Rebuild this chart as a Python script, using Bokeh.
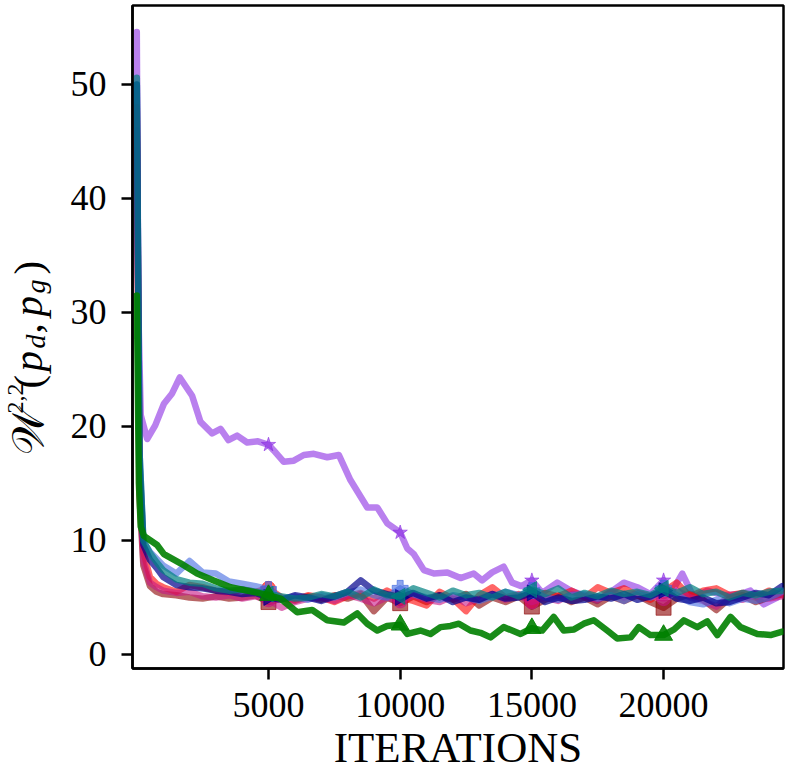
import numpy as np
from bokeh.plotting import figure
from bokeh.models import Range1d, FixedTicker
from bokeh.layouts import row
from bokeh.core.properties import value
from bokeh.embed import file_html
from bokeh.resources import INLINE

# ---------------- data ----------------
purple_x = [0, 60, 150, 394, 700, 1030, 1340, 1633, 2100, 2420, 2860, 3180, 3480, 3810, 4190, 4600,
            5000, 5200, 5580, 5960, 6340, 6720, 7230, 7670, 8110, 8750, 9130, 9510, 10000, 10270, 10520, 10900,
            11280, 11790, 12290, 12790, 13110, 13490, 13930, 14250, 14600, 15000, 15390, 15960, 16470, 16970, 17480, 18000,
            18490, 19000, 19500, 20000, 20260, 20710, 21150, 21660, 22290, 22920, 23300, 23800, 24310, 24550]
purple_y = [54.6, 30.0, 21.0, 18.9, 20.1, 22.0, 22.9, 24.3, 22.7, 20.4, 19.4, 19.8, 18.8, 19.2, 18.6, 18.7,
            18.4, 17.9, 16.9, 17.0, 17.5, 17.6, 17.3, 17.5, 15.3, 12.9, 12.9, 11.5, 10.7, 9.3, 8.8, 7.4,
            7.1, 7.2, 6.7, 7.1, 6.5, 7.2, 7.7, 6.3, 6.0, 6.5, 5.4, 6.3, 5.6, 5.2, 4.7, 5.5,
            6.3, 5.9, 5.3, 6.5, 5.3, 7.1, 5.0, 5.6, 5.2, 5.3, 5.6, 4.4, 5.0, 5.6]

green_x = [0, 80, 150, 270, 770, 1030, 1660, 2290, 2920, 3560, 4190, 4820, 5000, 5460, 6090, 6660,
           7230, 7860, 8370, 8750, 9130, 9500, 10000, 10270, 10770, 11150, 11530, 11910, 12230, 12670, 13050, 13430,
           13930, 14570, 15000, 15390, 15830, 16210, 16600, 16970, 17350, 17860, 18240, 18750, 19060, 19500, 20000, 20400,
           20770, 21280, 21660, 22040, 22540, 22920, 23560, 24060, 24510]
green_y = [31.5, 15.0, 11.2, 10.4, 9.6, 8.8, 8.0, 7.1, 6.5, 5.9, 5.6, 5.3, 5.2, 4.9, 3.7, 3.9,
           3.0, 2.8, 3.6, 2.7, 2.1, 2.5, 2.6, 1.8, 2.1, 1.8, 2.4, 2.5, 2.7, 2.1, 1.9, 1.5,
           2.4, 1.8, 2.3, 2.1, 3.3, 2.1, 2.2, 2.7, 3.0, 2.1, 1.4, 1.5, 2.4, 1.7, 1.7, 2.2,
           3.0, 2.4, 2.9, 1.7, 3.3, 2.4, 1.8, 1.7, 2.0]

grid_x = [0, 100, 250, 500, 750, 1000, 1500, 2000, 2500, 3000, 3500, 4000, 4500, 5000,
          5500, 6000, 6500, 7000, 7500, 8000, 8500, 9000, 9500, 10000, 10500, 11000, 11500, 12000,
          12500, 13000, 13500, 14000, 14500, 15000, 15500, 16000, 16500, 17000, 17500, 18000, 18500, 19000,
          19500, 20000, 20500, 21000, 21500, 22000, 22500, 23000, 23500, 24000, 24500]
brown_y = [45, 14, 7.8, 6.0, 5.5, 5.3, 5.2, 5.0, 4.9, 5.1, 4.9, 5.0, 5.2, 4.6,
           4.9, 4.7, 5.1, 4.8, 5.2, 4.9, 5.3, 3.8, 5.0, 4.5, 5.1, 4.6, 5.2, 4.8,
           5.3, 4.3, 5.0, 4.6, 5.1, 4.2, 4.8, 5.2, 4.6, 5.0, 4.4, 5.1, 4.7, 5.2,
           4.6, 4.1, 4.9, 5.3, 4.8, 3.9, 4.9, 5.2, 4.6, 5.0, 5.3]
red_y = [48, 16, 9.0, 6.8, 6.2, 5.9, 5.5, 6.1, 5.9, 5.6, 5.4, 5.7, 5.5, 5.8,
         5.0, 4.8, 5.2, 5.0, 4.6, 5.1, 5.4, 4.9, 5.6, 5.0, 4.7, 4.3, 5.5, 4.9,
         3.8, 5.2, 5.9, 5.0, 5.3, 4.7, 5.4, 5.1, 5.6, 5.0, 5.9, 5.4, 5.8, 5.2,
         4.8, 5.5, 6.3, 5.1, 5.6, 5.8, 5.2, 5.4, 5.0, 5.6, 5.2]
royal_y = [50, 18, 9.9, 9.0, 8.4, 7.8, 7.1, 8.2, 7.2, 7.1, 6.4, 6.2, 6.0, 5.7,
           4.9, 5.1, 4.8, 5.2, 5.0, 5.4, 5.7, 5.2, 5.0, 5.8, 5.3, 5.0, 4.8, 5.2,
           5.0, 4.7, 5.1, 5.5, 5.2, 5.6, 5.0, 4.8, 5.2, 5.3, 4.9, 5.2, 4.7, 5.3,
           5.0, 5.8, 5.2, 4.6, 4.4, 4.8, 4.5, 4.9, 4.7, 5.0, 5.5]
navy_y = [50, 17, 9.6, 8.3, 7.6, 6.8, 6.1, 5.9, 5.8, 5.6, 5.5, 5.3, 5.4, 5.0,
          4.8, 5.2, 5.0, 4.7, 5.1, 5.5, 6.5, 5.6, 5.3, 5.0, 5.4, 4.9, 5.2, 4.6,
          5.0, 4.8, 5.3, 4.9, 5.0, 5.4, 4.6, 5.0, 4.7, 4.8, 5.1, 4.9, 5.3, 4.8,
          5.1, 5.6, 4.9, 4.7, 5.0, 4.5, 4.6, 5.0, 5.4, 5.2, 6.0]
teal_y = [50.6, 18, 10.0, 8.9, 8.1, 7.4, 6.6, 6.3, 6.2, 5.8, 5.6, 5.7, 5.5, 5.3,
          5.1, 4.9, 5.0, 5.3, 5.1, 5.5, 5.0, 5.7, 5.2, 5.1, 5.8, 5.4, 5.0, 5.6,
          5.2, 5.4, 5.0, 5.5, 5.1, 5.7, 5.3, 5.8, 5.0, 5.4, 5.1, 5.6, 5.3, 5.5,
          5.2, 5.8, 5.4, 5.9, 5.3, 5.5, 5.0, 5.4, 5.2, 5.5, 5.6]
pink_y = [46, 15, 8.2, 6.3, 5.9, 5.6, 5.4, 5.5, 5.1, 5.0, 5.2, 4.9, 5.1, 4.8,
          4.1, 4.6, 4.9, 5.0, 4.7, 5.2, 4.9, 4.5, 5.0, 4.7, 5.2, 4.8, 4.6, 5.1,
          4.5, 4.9, 5.3, 4.8, 5.2, 4.6, 5.0, 4.7, 5.3, 5.1, 4.8, 5.5, 5.0, 5.4,
          5.1, 4.9, 5.6, 5.0, 4.7, 4.2, 5.1, 4.8, 5.3, 4.9, 5.1]

mark_x = [5000, 10000, 15000, 20000]
x_ticks = [5000, 10000, 15000, 20000]
y_ticks = [0, 10, 20, 30, 40, 50]
x_label = "ITERATIONS"
# y-axis title pieces: W^{2,2}(p_d, p_g)
y_title = ["\U0001D4B2", "2,2", "(", "p", "d", ",", "p", "g", ")"]

# ---------------- geometry (page px) ----------------
TW = 62                       # width of the title column
FL, FR, FT, FB = 132, 783, 5, 668
BOTTOM = 105
H = FT + (FB - FT) + BOTTOM
X0, X1 = -163, 24553
Y0, Y1 = -1.23, 56.93

FONT = "Liberation Serif"

p = figure(frame_width=FR - FL, frame_height=FB - FT,
           x_range=Range1d(X0, X1), y_range=Range1d(Y0, Y1),
           output_backend="svg", toolbar_location=None,
           min_border_left=FL - TW, min_border_right=4,
           min_border_top=FT, min_border_bottom=BOTTOM)
p.background_fill_color = "white"
p.border_fill_color = "white"
p.grid.visible = False
p.outline_line_color = "black"
p.outline_line_width = 2.5
p.outline_line_alpha = 1.0

for ax in (p.xaxis[0], p.yaxis[0]):
    ax.axis_line_width = 2.5
    ax.major_tick_line_width = 2.5
    ax.major_tick_out = 11
    ax.major_tick_in = 0
    ax.minor_tick_out = 0
    ax.minor_tick_in = 0
    ax.major_label_text_font = FONT
    ax.major_label_text_font_size = "36px"
    ax.major_label_text_color = "black"
p.xaxis.ticker = FixedTicker(ticks=x_ticks)
p.yaxis.ticker = FixedTicker(ticks=y_ticks)
p.xaxis.major_label_standoff = 13
p.yaxis.major_label_standoff = 15
p.xaxis.axis_label = x_label
p.xaxis.axis_label_text_font = FONT
p.xaxis.axis_label_text_font_size = "43px"
p.xaxis.axis_label_text_font_style = "normal"
p.xaxis.axis_label_text_color = "black"
p.xaxis.axis_label_standoff = 4

series = [
    (purple_x, purple_y, "#8A2BE2", 0.6, "star", 0, 15),
    (grid_x, brown_y, "#8B0000", 0.6, "square", 0, 15),
    (grid_x, red_y, "#FF0000", 0.6, "circle", 0, 14),
    (grid_x, pink_y, "#C71585", 0.6, "circle", 0, 14),
    (grid_x, royal_y, "#4169E1", 0.6, "plus", 0, 16),
    (grid_x, navy_y, "#00008B", 0.7, "triangle", -np.pi / 2, 16),
    (grid_x, teal_y, "#008080", 0.7, "triangle", np.pi / 2, 16),
    (green_x, green_y, "#008000", 0.9, "triangle", 0, 18),
]
for xs, ys, col, a, mk, ang, sz in series:
    p.line(xs, ys, line_color=col, line_alpha=a, line_width=6.5,
           line_join="round", line_cap="round")
    mx = [x for x in xs if x in mark_x]
    my = [y for x, y in zip(xs, ys) if x in mark_x]
    p.scatter(mx, my, marker=mk, size=sz, angle=ang, fill_color=col, line_color=col,
              fill_alpha=a, line_alpha=a, line_width=1)

# ---------------- y title column (x = page px, y = H - page px) ----------------
t = figure(frame_width=TW, frame_height=H, x_range=Range1d(0, TW), y_range=Range1d(0, H),
           output_backend="svg", toolbar_location=None,
           x_axis_location=None, y_axis_location=None,
           min_border_left=0, min_border_right=0, min_border_top=0, min_border_bottom=0)
t.grid.visible = False
t.outline_line_color = None
t.background_fill_color = "white"
t.border_fill_color = "white"

# (text index, font px, style, centre-line x, start y) in page px
piece_style = [
    (0, 44, "normal", 28, 449),
    (1, 24, "normal", 15, 408),
    (2, 41, "normal", 27, 383),
    (3, 41, "italic", 27, 366),
    (4, 28, "italic", 35, 343),
    (5, 41, "normal", 27, 328),
    (6, 41, "italic", 27, 311),
    (7, 28, "italic", 35, 288),
    (8, 41, "normal", 27, 269),
]
for i, fs, st, cx, sy in piece_style:
    t.text(x=[cx], y=[H - sy], text=[y_title[i]], angle=np.pi / 2,
           text_font=value(FONT), text_font_size=f"{fs}px", text_font_style=st,
           text_align="left", text_baseline="middle", text_color="black")

layout = row(t, p)
open("out.html", "w").write(file_html(layout, INLINE))
